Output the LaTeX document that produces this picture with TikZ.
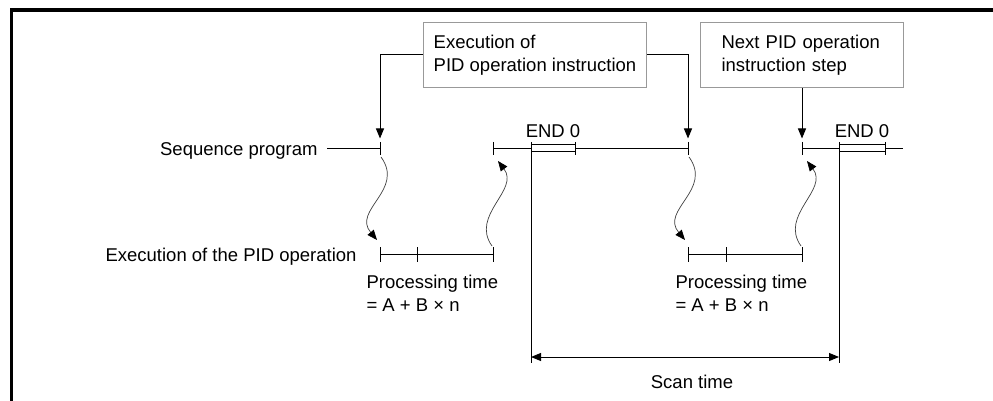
\documentclass[tikz,border=0pt]{standalone}
\usepackage{fontspec}
\setmainfont{Liberation Sans}
\usepackage{tikz}
\usetikzlibrary{arrows.meta}

\tikzset{
  lbl/.style={inner sep=0pt,font=\fontsize{18.5}{22.5}\selectfont},
  infobox/.style={draw=black!40,line width=0.9pt,align=left,minimum height=65.4pt,
    inner xsep=10.5pt,font=\fontsize{18.5}{22.5}\selectfont},
  wave/.style={draw=black!75,line width=0.7pt,-{Triangle[length=10pt,width=8pt,color=black]}}
}

\begin{document}
\begin{tikzpicture}[x=1pt,y=-1pt,line width=1pt,>={Triangle[length=10pt,width=8pt]}]
\useasboundingbox (0,0) rectangle (993,401);
\draw[line width=3.2pt](11.5,410)--(11.5,10)--(1000,10);

% points on the sequence program line
\coordinate (s1) at (380,148.5);
\coordinate (s2) at (493,148.5);
\coordinate (e1) at (531,148.5);
\coordinate (e2) at (575,148.5);
\coordinate (s3) at (688,148.5);
\coordinate (s4) at (802,148.5);
\coordinate (e3) at (839,148.5);
\coordinate (e4) at (885,148.5);
\coordinate (seqend) at (903,148.5);
% points on the PID operation line
\coordinate (p1) at (380,254.5);
\coordinate (p2) at (417,254.5);
\coordinate (p3) at (493,254.5);
\coordinate (p4) at (688,254.5);
\coordinate (p5) at (726,254.5);
\coordinate (p6) at (802,254.5);
% arrow ends and scan time ends
\coordinate (a1) at (380,138.5);
\coordinate (a3) at (688,138.5);
\coordinate (a4) at (802,138.5);
\coordinate (v1) at (531,363);
\coordinate (v2) at (839,363);

\node[infobox](instr) at (535,55){Execution of\\PID operation instruction};
\node[infobox,inner xsep=21pt,text width=161pt](nextstep) at (802,55){Next PID operation\\instruction step};
\draw[->](instr.west)-|(a1);
\draw[->](instr.east)-|(a3);
\draw[->](nextstep.south)--(a4);

\node[lbl,anchor=base east](seq) at (318,155){Sequence program};
\node[lbl,anchor=base east](exec) at (357,261){Execution of the PID operation};

% sequence program
\draw(seq.east|-s1)++(9,0)--(s1);
\draw(s2)--(e1);
\draw(e2)--(s3);
\draw(s4)--(e3);
\draw(e4)--(seqend);
\draw([yshift=6.6pt]s1)--([yshift=-6.6pt]s1);
\draw([yshift=6.6pt]s2)--([yshift=-6.6pt]s2);
\draw([yshift=6.6pt]s3)--([yshift=-6.6pt]s3);
\draw([yshift=6.6pt]s4)--([yshift=-6.6pt]s4);
\draw([yshift=6.6pt]e1)--([yshift=-6.6pt]e1);
\draw([yshift=6.6pt]e2)--([yshift=-6.6pt]e2);
\draw([yshift=6.6pt]e3)--([yshift=-6.6pt]e3);
\draw([yshift=6.6pt]e4)--([yshift=-6.6pt]e4);
\draw[fill=white]([yshift=3.5pt]e1)rectangle([yshift=-3.5pt]e2);
\draw[fill=white]([yshift=3.5pt]e3)rectangle([yshift=-3.5pt]e4);
\node[lbl,anchor=base](endA) at (553,137.5){END 0};
\node[lbl,anchor=base](endB) at (862,137.5){END 0};

% PID operation
\draw(p1)--(p3);
\draw(p4)--(p6);
\draw([yshift=7.5pt]p1)--([yshift=-7.5pt]p1);
\draw([yshift=7.5pt]p2)--([yshift=-7.5pt]p2);
\draw([yshift=7.5pt]p3)--([yshift=-7.5pt]p3);
\draw([yshift=7.5pt]p4)--([yshift=-7.5pt]p4);
\draw([yshift=7.5pt]p5)--([yshift=-7.5pt]p5);
\draw([yshift=7.5pt]p6)--([yshift=-7.5pt]p6);
\draw[wave]([shift={(1,8.5)}]s1)..controls +(24,33) and +(-25,-30)..([shift={(-3,-14.5)}]p1);
\draw[wave]([shift={(-1,-8.5)}]p3)..controls +(-22,-31) and +(22,29)..([shift={(5,12.5)}]s2);
\draw[wave]([shift={(1,8.5)}]s3)..controls +(24,33) and +(-25,-30)..([shift={(-3,-14.5)}]p4);
\draw[wave]([shift={(-1,-8.5)}]p6)..controls +(-22,-31) and +(22,29)..([shift={(5,12.5)}]s4);
% base of a two line node sits on its last line
\node[lbl,anchor=base west,align=left](procA) at (366,311){Processing time\\= A + B × n};
\node[lbl,anchor=base west,align=left](procB) at (675,311){Processing time\\= A + B × n};

% scan time
\draw([yshift=-3.5pt]e1)--(v1);
\draw([yshift=-3.5pt]e3)--(v2);
\draw[<->]([yshift=6pt]v1)--([yshift=6pt]v2);
\node[lbl,anchor=base](scan) at (692,388.5){Scan time};
\end{tikzpicture}
\end{document}
